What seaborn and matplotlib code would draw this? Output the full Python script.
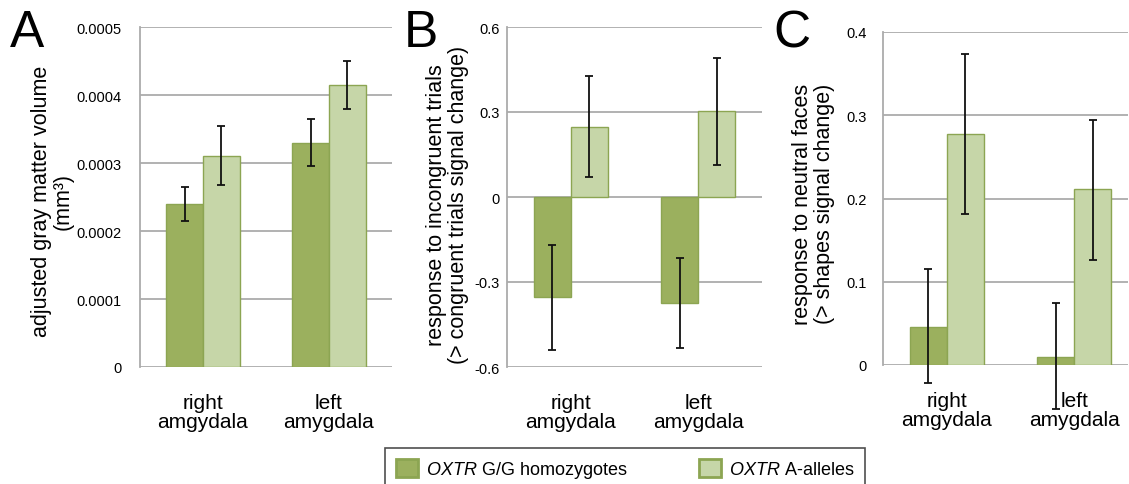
import numpy as np
import pandas as pd
import matplotlib
matplotlib.use("Agg")
import matplotlib.pyplot as plt
import seaborn as sns
from matplotlib.patches import Patch

# data
regions = ["right\namgydala", "left\namygdala"]
genotypes = ["G/G", "A"]
legend_labels = [r"$\it{OXTR}$ G/G homozygotes", r"$\it{OXTR}$ A-alleles"]

# A: adjusted gray matter volume (mm3)
vol_gg = [0.00024, 0.00033]
vol_a = [0.00031, 0.000415]
vol_gg_lo = [0.000215, 0.000296]
vol_gg_hi = [0.000265, 0.000365]
vol_a_lo = [0.000267, 0.00038]
vol_a_hi = [0.000355, 0.00045]

# B: incongruent > congruent trials signal change
inc_gg = [-0.354, -0.375]
inc_a = [0.248, 0.305]
inc_gg_lo = [-0.54, -0.532]
inc_gg_hi = [-0.169, -0.215]
inc_a_lo = [0.07, 0.112]
inc_a_hi = [0.426, 0.492]

# C: neutral faces > shapes signal change
fac_gg = [0.0457, 0.0096]
fac_a = [0.277, 0.211]
fac_gg_lo = [-0.022, -0.0525]
fac_gg_hi = [0.115, 0.074]
fac_a_lo = [0.181, 0.126]
fac_a_hi = [0.373, 0.294]

dark = "#9BB05E"
light = "#C6D6A8"
edge = "#8CA552"
grid_col = "#ABABAB"

sns.set_style("white")
plt.rcParams["font.family"] = ["Liberation Sans", "DejaVu Sans"]
plt.rcParams["mathtext.fontset"] = "custom"
plt.rcParams["mathtext.it"] = "Liberation Sans:italic"
plt.rcParams["mathtext.rm"] = "Liberation Sans"
plt.rcParams["text.color"] = "black"
plt.rcParams["axes.labelcolor"] = "black"
plt.rcParams["xtick.color"] = "black"
plt.rcParams["ytick.color"] = "black"

W, H = 1129, 485
fig = plt.figure(figsize=(W / 100, H / 100), dpi=100)


def px_axes(left, right, top, bottom):
    return fig.add_axes([left / W, (H - bottom) / H, (right - left) / W, (bottom - top) / H])


def panel(ax, gg, a, gg_lo, gg_hi, a_lo, a_hi, ylim, yticks, yticklabels, ylabel, ypad, lab_x, lab_y, xmax=1.5):
    df = pd.DataFrame({
        "region": regions * 2,
        "genotype": [genotypes[0]] * 2 + [genotypes[1]] * 2,
        "value": gg + a,
    })
    sns.barplot(data=df, x="region", y="value", hue="genotype", order=regions,
                hue_order=genotypes, palette=[dark, light], width=0.58,
                edgecolor=edge, linewidth=1.0, errorbar=None, legend=False,
                saturation=1, ax=ax)
    lows = [gg_lo, a_lo]
    highs = [gg_hi, a_hi]
    vals = [gg, a]
    bar_groups = list(ax.containers)
    for k, cont in enumerate(bar_groups):
        xs = [p.get_x() + p.get_width() / 2 for p in cont.patches]
        v = np.array(vals[k])
        lo = v - np.array(lows[k])
        hi = np.array(highs[k]) - v
        eb = ax.errorbar(xs, v, yerr=[lo, hi], fmt="none", ecolor="#111111",
                         elinewidth=1.3, capsize=3, capthick=1.3, zorder=5)
        for art in list(eb.lines[1]) + list(eb.lines[2]):
            art.set_clip_on(False)
    ax.set_xlim(-0.5, xmax)
    ax.set_ylim(*ylim)
    ax.set_yticks(yticks)
    ax.set_yticklabels(yticklabels)
    ax.yaxis.grid(True, color=grid_col, linewidth=1.3)
    ax.set_axisbelow(True)
    for s in ["top", "right", "bottom"]:
        ax.spines[s].set_visible(False)
    ax.spines["left"].set_color(grid_col)
    ax.spines["left"].set_linewidth(1.3)
    ax.tick_params(axis="y", length=0, labelsize=10.5, pad=ypad, labelcolor="black")
    ax.tick_params(axis="x", length=0, labelsize=15, pad=19, labelcolor="black")
    for t in ax.get_xticklabels():
        t.set_linespacing(1.0)
    ax.set_xlabel("")
    ax.set_ylabel(ylabel, fontsize=15.5, linespacing=1.05, color="black")
    ax.yaxis.set_label_coords(lab_x, lab_y)


axA = px_axes(140, 392, 28, 368)
panel(axA, vol_gg, vol_a, vol_gg_lo, vol_gg_hi, vol_a_lo, vol_a_hi,
      (0, 0.0005), [0, 0.0001, 0.0002, 0.0003, 0.0004, 0.0005],
      ["0", "0.0001", "0.0002", "0.0003", "0.0004", "0.0005"],
      "adjusted gray matter volume\n(mm³)", 13, -0.262, 0.49)

axB = px_axes(507, 762, 28, 368)
panel(axB, inc_gg, inc_a, inc_gg_lo, inc_gg_hi, inc_a_lo, inc_a_hi,
      (-0.6, 0.6), [-0.6, -0.3, 0, 0.3, 0.6],
      ["-0.6", "-0.3", "0", "0.3", "0.6"],
      "response to incongruent trials\n(> congruent trials signal change)", 5, -0.15, 0.48)

axC = px_axes(883, 1128, 33, 366)
panel(axC, fac_gg, fac_a, fac_gg_lo, fac_gg_hi, fac_a_lo, fac_a_hi,
      (0, 0.4), [0, 0.1, 0.2, 0.3, 0.4],
      ["0", "0.1", "0.2", "0.3", "0.4"],
      "response to neutral faces\n(> shapes signal change)", 12, -0.197, 0.486, xmax=1.42)

for letter, xp in zip(["A", "B", "C"], [10, 404, 773]):
    fig.text(xp / W, 1 - 9 / H, letter, fontsize=37, ha="left", va="top", color="black")

handles = [Patch(facecolor=dark, edgecolor=edge, linewidth=2),
           Patch(facecolor=light, edgecolor=edge, linewidth=2)]
leg = fig.legend(handles, legend_labels, loc="upper left",
                 bbox_to_anchor=(385 / W, 1 - 449 / H), ncol=2, fontsize=13,
                 frameon=True, fancybox=False, edgecolor="#222222",
                 handlelength=1.2, handleheight=1.2, handletextpad=0.45,
                 columnspacing=4.0, borderpad=0.6, borderaxespad=0)
leg.get_frame().set_linewidth(1.2)
for t in leg.get_texts():
    t.set_color("black")

fig.savefig("out.png", dpi=100)
